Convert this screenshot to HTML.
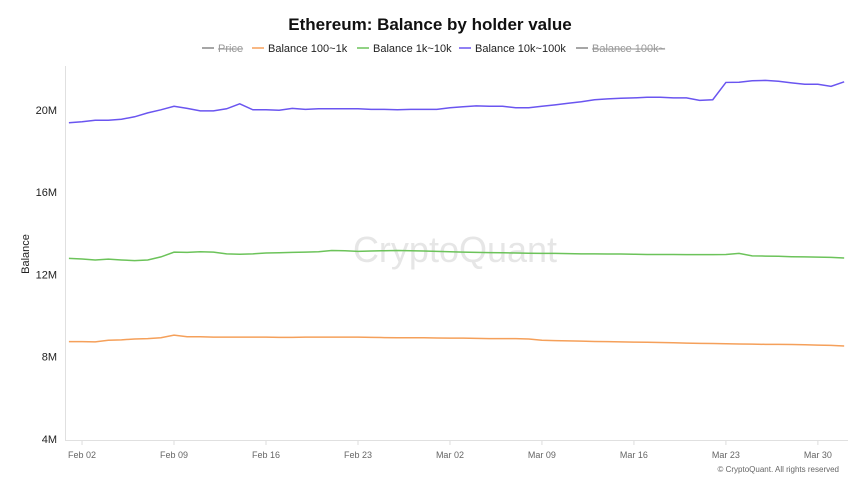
<!DOCTYPE html>
<html><head><meta charset="utf-8"><style>
body{margin:0;background:#fff;font-family:"Liberation Sans",sans-serif;}
svg text{font-family:"Liberation Sans",sans-serif;}
</style></head><body>
<svg id="chart" width="860" height="484" xmlns="http://www.w3.org/2000/svg">
<text x="430" y="30" text-anchor="middle" font-size="17" font-weight="bold" fill="#111">Ethereum: Balance by holder value</text>
<g id="legend" font-size="11"></g>
<text x="455" y="262" text-anchor="middle" font-size="36" fill="#e6e6e6">CryptoQuant</text>
<line x1="65.5" y1="66" x2="65.5" y2="440" stroke="#e0e0e0"/>
<line x1="65" y1="440.5" x2="848" y2="440.5" stroke="#e0e0e0"/>
<text transform="translate(29,254) rotate(-90)" text-anchor="middle" font-size="11" fill="#222">Balance</text>
<g id="yticks"></g><g id="xticks"></g><g id="series"></g>
<text x="839" y="472" text-anchor="end" font-size="8" fill="#666">© CryptoQuant. All rights reserved</text>
</svg>
<script>
const yTicks=[4,8,12,16,20];
const xTickLabels=["Feb 02","Feb 09","Feb 16","Feb 23","Mar 02","Mar 09","Mar 16","Mar 23","Mar 30"];
const xTickDays=[1,8,15,22,29,36,43,50,57];
const bal10k=[19.37,19.42,19.49,19.49,19.54,19.66,19.85,20.0,20.17,20.07,19.95,19.95,20.05,20.29,20.0,20.0,19.98,20.07,20.02,20.05,20.05,20.05,20.05,20.02,20.02,20.0,20.02,20.02,20.02,20.10,20.15,20.19,20.17,20.17,20.10,20.10,20.17,20.24,20.32,20.39,20.49,20.53,20.56,20.58,20.61,20.61,20.58,20.58,20.46,20.49,21.33,21.34,21.41,21.43,21.39,21.31,21.24,21.24,21.14,21.36];
const bal1k=[12.78,12.75,12.70,12.74,12.70,12.67,12.70,12.85,13.08,13.07,13.10,13.08,13.0,12.98,13.0,13.04,13.05,13.07,13.08,13.10,13.16,13.15,13.12,13.14,13.15,13.16,13.15,13.14,13.12,13.10,13.08,13.07,13.06,13.05,13.04,13.03,13.02,13.02,13.01,13.0,13.0,12.99,12.99,12.98,12.97,12.97,12.97,12.96,12.96,12.96,12.97,13.02,12.90,12.89,12.88,12.86,12.85,12.84,12.83,12.80];
const bal100=[8.73,8.73,8.72,8.80,8.82,8.86,8.88,8.92,9.05,8.97,8.97,8.95,8.95,8.95,8.95,8.95,8.94,8.94,8.95,8.95,8.95,8.95,8.95,8.94,8.93,8.92,8.92,8.92,8.91,8.90,8.90,8.89,8.88,8.88,8.88,8.86,8.80,8.78,8.77,8.76,8.74,8.73,8.72,8.71,8.70,8.69,8.68,8.66,8.65,8.64,8.63,8.62,8.61,8.60,8.60,8.59,8.58,8.56,8.55,8.52];
const seriesNames=["Price","Balance 100~1k","Balance 1k~10k","Balance 10k~100k","Balance 100k~"];
const NS="http://www.w3.org/2000/svg";
const xs=d=>68.9+13.14*d;
const ys=v=>439-(v-4)*20.575;
function mk(tag,attrs,parent){const e=document.createElementNS(NS,tag);for(const k in attrs)e.setAttribute(k,attrs[k]);parent.appendChild(e);return e;}
const yg=document.getElementById('yticks');
yTicks.forEach(v=>{const t=mk('text',{x:57,y:ys(v)+4,'text-anchor':'end','font-size':11,fill:'#222'},yg);t.textContent=v+'M';

});
const xg=document.getElementById('xticks');
xTickLabels.forEach((l,i)=>{const x=xs(xTickDays[i]);const ln=mk('line',{x1:x,x2:x,y1:441,y2:445,stroke:'#ddd'},xg);


const t=mk('text',{x:x,y:458,'text-anchor':'middle','font-size':9,fill:'#666'},xg);t.textContent=l;

});
const sg=document.getElementById('series');
function line(arr,color,name){const p=mk('polyline',{points:arr.map((v,i)=>xs(i)+','+ys(v)).join(' '),fill:'none',stroke:color,'stroke-width':1.5},sg);

}
line(bal100,'#f5a05a','line-balance-100-1k');
line(bal1k,'#6cc35a','line-balance-1k-10k');
line(bal10k,'#6a55f0','line-balance-10k-100k');
const lg=document.getElementById('legend');
const colors=['#888','#f5a05a','#6cc35a','#6a55f0','#888'];
const lx=[202,252,357,459,576];
seriesNames.forEach((n,i)=>{const g=mk('g',{},lg);


mk('line',{x1:lx[i],x2:lx[i]+12,y1:48,y2:48,stroke:colors[i],'stroke-width':1.5},g);
const t=mk('text',{x:lx[i]+16,y:52,fill:(i==0||i==4)?'#999':'#222','text-decoration':(i==0||i==4)?'line-through':'none'},g);t.textContent=n;});
</script>
</body></html>
